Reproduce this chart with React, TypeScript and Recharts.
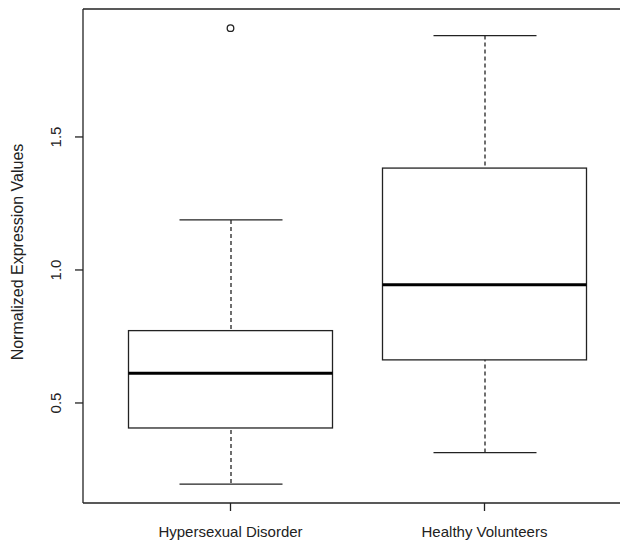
import React from "react";
import { ComposedChart, Bar, Scatter, XAxis, YAxis, Label, ReferenceLine } from "recharts";

// boxplot stats
const groups = ["Hypersexual Disorder", "Healthy Volunteers"];
const whiskerLow = [0.195, 0.313];
const quartile1 = [0.406, 0.662];
const medians = [0.612, 0.944];
const quartile3 = [0.772, 1.383];
const whiskerHigh = [1.188, 1.881];
const outliers: (number | null)[] = [1.909, null];

const yTicks = [0.5, 1.0, 1.5];
const yDomain = [0.124, 1.981];

const data = groups.map((group, i) => ({
  group,
  whisker: [whiskerLow[i], whiskerHigh[i]],
  box: [quartile1[i], quartile3[i]],
  median: medians[i],
  outlier: outliers[i],
}));

const INK = "#222";
const FONT = "'Liberation Sans', Arial, sans-serif";
const BOX_WIDTH = 204;
const CAP_WIDTH = 103;
const PAD = { left: 20.5, right: 20.5 };

const WhiskerShape = (props: any) => {
  const { x, y, width, height } = props;
  const top = Math.min(y, y + height);
  const bottom = Math.max(y, y + height);
  const cx = x + width / 2;
  return (
    <g>
      <line x1={cx} y1={top} x2={cx} y2={bottom} stroke={INK} strokeWidth={1.3} strokeDasharray="4 3" />
      <line x1={x} y1={top} x2={x + width} y2={top} stroke={INK} strokeWidth={1.3} />
      <line x1={x} y1={bottom} x2={x + width} y2={bottom} stroke={INK} strokeWidth={1.3} />
    </g>
  );
};

const BoxShape = (props: any) => {
  const { x, y, width, height } = props;
  return (
    <rect
      x={x}
      y={Math.min(y, y + height)}
      width={width}
      height={Math.abs(height)}
      fill="#fff"
      stroke={INK}
      strokeWidth={1.3}
    />
  );
};

const MedianShape = (props: any) => {
  const { cx, cy } = props;
  if (cx == null || cy == null) return null;
  return <line x1={cx - BOX_WIDTH / 2} y1={cy} x2={cx + BOX_WIDTH / 2} y2={cy} stroke="#000" strokeWidth={3} />;
};

const OutlierShape = (props: any) => {
  const { cx, cy, payload } = props;
  if (payload == null || payload.outlier == null || cy == null) return null;
  return <circle cx={cx} cy={cy} r={3.3} fill="none" stroke={INK} strokeWidth={1.3} />;
};

const YTick = (props: any) => {
  const { x, y, payload } = props;
  const tx = x - 12;
  return (
    <text
      x={tx}
      y={y}
      transform={`rotate(-90, ${tx}, ${y})`}
      textAnchor="middle"
      fontFamily={FONT}
      fontSize={15}
      fill={INK}
    >
      {Number(payload.value).toFixed(1)}
    </text>
  );
};

const XTick = (props: any) => {
  const { x, y, payload } = props;
  return (
    <text x={x} y={y + 24} textAnchor="middle" fontFamily={FONT} fontSize={15} fill={INK}>
      {payload.value}
    </text>
  );
};

const YTitle = (props: any) => {
  const vb = props.viewBox || { x: 0, y: 0, width: 75, height: 494 };
  const tx = vb.x + 15;
  const ty = vb.y + vb.height / 2 - 4;
  return (
    <text
      x={tx}
      y={ty}
      transform={`rotate(-90, ${tx}, ${ty})`}
      textAnchor="middle"
      fontFamily={FONT}
      fontSize={16}
      fill={INK}
    >
      Normalized Expression Values
    </text>
  );
};

export default function App() {
  return (
    <div style={{ width: 612, height: 534, background: "#fff" }}>
      <ComposedChart width={612} height={534} data={data} margin={{ top: 1, right: -12, bottom: 0, left: 0 }}>
        <XAxis
          xAxisId="box"
          dataKey="group"
          height={39}
          padding={PAD}
          tickSize={8}
          tick={<XTick />}
          tickLine={{ stroke: INK, strokeWidth: 1.3 }}
          axisLine={{ stroke: INK, strokeWidth: 1.3 }}
          interval={0}
        />
        <XAxis xAxisId="whisker" dataKey="group" padding={PAD} hide />
        <YAxis
          type="number"
          domain={yDomain}
          ticks={yTicks}
          width={75}
          tickSize={8}
          tick={<YTick />}
          tickLine={{ stroke: INK, strokeWidth: 1.3 }}
          axisLine={{ stroke: INK, strokeWidth: 1.3 }}
          allowDataOverflow
        >
          <Label content={<YTitle />} />
        </YAxis>
        {/* top edge of the plot frame */}
        <ReferenceLine xAxisId="box" y={yDomain[1]} stroke={INK} strokeWidth={1.3} ifOverflow="visible" />
        <Bar
          xAxisId="whisker"
          dataKey="whisker"
          barSize={CAP_WIDTH}
          shape={<WhiskerShape />}
          isAnimationActive={false}
        />
        <Bar
          xAxisId="box"
          dataKey="box"
          barSize={BOX_WIDTH}
          shape={<BoxShape />}
          isAnimationActive={false}
        />
        <Scatter xAxisId="box" dataKey="median" shape={<MedianShape />} isAnimationActive={false} />
        <Scatter xAxisId="box" dataKey="outlier" shape={<OutlierShape />} isAnimationActive={false} />
      </ComposedChart>
    </div>
  );
}
